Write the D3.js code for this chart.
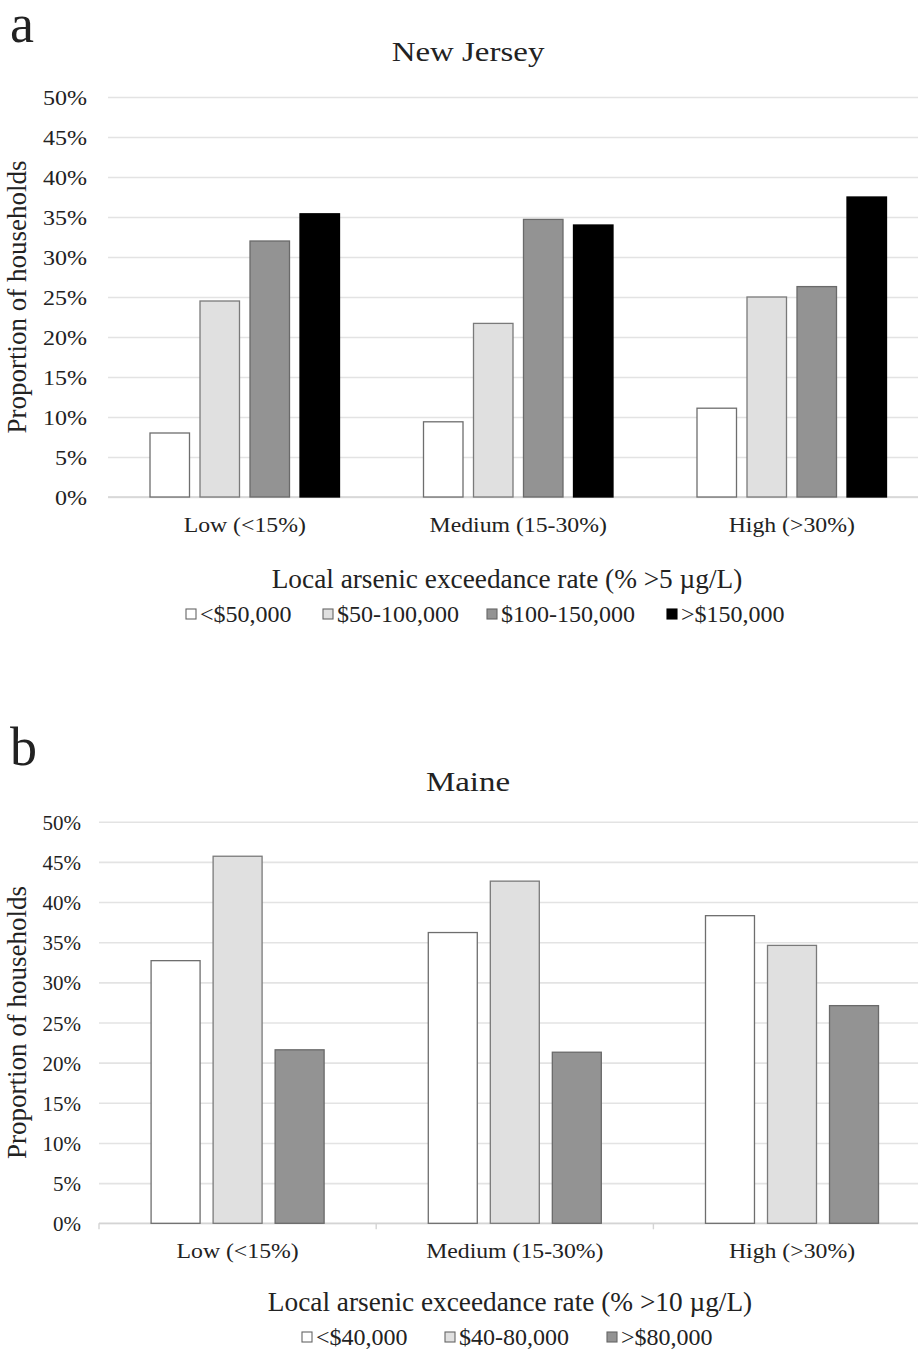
<!DOCTYPE html>
<html>
<head>
<meta charset="utf-8">
<script src="https://cdn.jsdelivr.net/npm/d3@7"></script>
<style>
  html, body { margin: 0; padding: 0; background: #fff; }
  svg { display: block; }
  text { font-family: "Liberation Serif", "Times New Roman", serif; fill: #222; }
</style>
</head>
<body>
<svg id="fig" width="918" height="1353"></svg>
<script>
// Exceedance-rate categories shared by both panels
const categories = ["Low (<15%)", "Medium (15-30%)", "High (>30%)"];

// Panel a: New Jersey, household income groups
const njSeries = ["<$50,000", "$50-100,000", "$100-150,000", ">$150,000"];
const njLow    = [0.080, 0.245, 0.320, 0.354];
const njMedium = [0.094, 0.217, 0.347, 0.340];
const njHigh   = [0.111, 0.250, 0.263, 0.375];

// Panel b: Maine, household income groups
const meSeries = ["<$40,000", "$40-80,000", ">$80,000"];
const meLow    = [0.327, 0.457, 0.216];
const meMedium = [0.362, 0.426, 0.213];
const meHigh   = [0.383, 0.346, 0.271];

const yTickValues = [0, 0.05, 0.10, 0.15, 0.20, 0.25, 0.30, 0.35, 0.40, 0.45, 0.50];

const fills   = ["#ffffff", "#e0e0e0", "#939393", "#000000"];
const strokes = ["#6e6e6e", "#7a7a7a", "#6a6a6a", "#000000"];

const svg = d3.select("#fig");

// text helper: horizontally stretched glyphs placed at (x, y)
function label(parent, x, y, str, size, sx, anchor, rotate) {
  const g = parent.append("g")
    .attr("transform", `translate(${x},${y})` + (rotate ? ` rotate(${rotate})` : "") + ` scale(${sx},1)`);
  g.append("text")
    .attr("text-anchor", anchor || "start")
    .attr("font-size", size)
    .text(str);
  return g;
}

function panel(cfg) {
  const root = svg.append("g");
  const rows = cfg.rows;               // one array per category, one value per series
  const x0 = d3.scaleBand().domain(categories).range([cfg.left, cfg.right]).paddingInner(0).paddingOuter(0);
  const x1 = d3.scaleBand().domain(cfg.series).range([0, x0.bandwidth()]).paddingInner(0.21).paddingOuter(0.84);
  const y  = d3.scaleLinear().domain([0, 0.5]).range([cfg.bottom, cfg.top]);

  // gridlines
  const grid = root.append("g")
    .attr("transform", `translate(${cfg.left},0)`)
    .call(d3.axisLeft(y).tickValues(yTickValues).tickSize(-(cfg.gridRight - cfg.left)).tickFormat(""));
  grid.select(".domain").remove();
  grid.selectAll(".tick line").attr("stroke", "#e3e3e3").attr("stroke-width", 1.6);

  // y tick labels
  root.selectAll(null).data(yTickValues).enter().each(function (d) {
    label(root, cfg.tickRight, y(d) + 8, d3.format(".0%")(d), 20, cfg.tickSx, "end");
  });

  // category axis line
  root.append("line")
    .attr("x1", cfg.left).attr("x2", cfg.gridRight)
    .attr("y1", y(0)).attr("y2", y(0))
    .attr("stroke", "#d4d4d4").attr("stroke-width", 1.6);

  if (cfg.ticks) {
    const edges = categories.map(c => x0(c)).concat([x0.range()[1]]);
    root.selectAll(null).data(edges).enter().append("line")
      .attr("x1", d => d).attr("x2", d => d)
      .attr("y1", y(0)).attr("y2", y(0) + 6)
      .attr("stroke", "#d4d4d4").attr("stroke-width", 1.4);
  }

  // bars
  categories.forEach((c, ci) => {
    const g = root.append("g").attr("transform", `translate(${x0(c)},0)`);
    g.selectAll("rect").data(cfg.series.map((s, si) => ({ s, si, v: rows[ci][si] }))).enter()
      .append("rect")
      .attr("x", d => x1(d.s))
      .attr("width", x1.bandwidth())
      .attr("y", d => y(d.v))
      .attr("height", d => y(0) - y(d.v))
      .attr("fill", d => fills[d.si])
      .attr("stroke", d => strokes[d.si])
      .attr("stroke-width", 1.3);
  });

  // category labels
  categories.forEach(c => {
    label(root, x0(c) + x0.bandwidth() / 2, y(0) + 35, c, 22, 1.08, "middle");
  });

  // panel letter and title
  label(root, 10, cfg.letterY, cfg.letter, 54, 1, "start");
  label(root, 468, cfg.titleY, cfg.title, 27, 1.22, "middle");

  // axis titles
  label(root, 26, (cfg.top + cfg.bottom) / 2, "Proportion of households", 27, 1, "middle", -90);
  label(root, cfg.xTitleX, cfg.xTitleY, cfg.xTitle, 27.3, 1, "middle");

  // legend
  cfg.series.forEach((s, si) => {
    const lx = cfg.legendX[si];
    root.append("rect")
      .attr("x", lx).attr("y", cfg.legendY - 13)
      .attr("width", 10).attr("height", 10)
      .attr("fill", fills[si])
      .attr("stroke", si === 3 ? "#000" : "#666")
      .attr("stroke-width", 1.1);
    label(root, lx + 14, cfg.legendY, s, 24, 1, "start");
  });
}

panel({
  letter: "a", letterY: 42,
  title: "New Jersey", titleY: 61,
  series: njSeries, rows: [njLow, njMedium, njHigh],
  left: 108, right: 928.5, gridRight: 918, top: 97, bottom: 497,
  tickRight: 87, tickSx: 1.2, ticks: false,
  xTitle: "Local arsenic exceedance rate (% >5 \u00b5g/L)", xTitleX: 507, xTitleY: 588,
  legendX: [186, 323, 487, 667], legendY: 622
});

panel({
  letter: "b", letterY: 765,
  title: "Maine", titleY: 791,
  series: meSeries, rows: [meLow, meMedium, meHigh],
  left: 99, right: 930.6, gridRight: 918, top: 821.7, bottom: 1223.3,
  tickRight: 81, tickSx: 1.05, ticks: true,
  xTitle: "Local arsenic exceedance rate (% >10 \u00b5g/L)", xTitleX: 510, xTitleY: 1311,
  legendX: [302, 445, 607], legendY: 1345
});
</script>
</body>
</html>
